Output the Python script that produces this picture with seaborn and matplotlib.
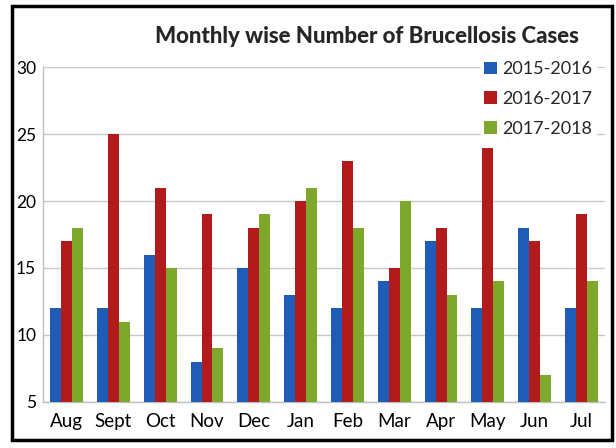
import matplotlib
matplotlib.use("Agg")
import matplotlib.pyplot as plt
import seaborn as sns
import pandas as pd
from matplotlib.patches import Rectangle

months = ["Aug", "Sept", "Oct", "Nov", "Dec", "Jan", "Feb", "Mar", "Apr", "May", "Jun", "Jul"]
seasons = ["2015-2016", "2016-2017", "2017-2018"]
cases_2015 = [12, 12, 16, 8, 15, 13, 12, 14, 17, 12, 18, 12]
cases_2016 = [17, 25, 21, 19, 18, 20, 23, 15, 18, 24, 17, 19]
cases_2017 = [18, 11, 15, 9, 19, 21, 18, 20, 13, 14, 7, 14]
colors = ["#1F5CB8", "#B21B1B", "#7EA82B"]

rows = []
for season, vals in zip(seasons, [cases_2015, cases_2016, cases_2017]):
    for m, v in zip(months, vals):
        rows.append({"month": m, "season": season, "cases": v})
df = pd.DataFrame(rows)

sns.set_style("white")
plt.rcParams["font.family"] = ["Lato", "DejaVu Sans"]

fig = plt.figure(figsize=(6.16, 4.48), dpi=100)
ax = fig.add_axes([0.070, 0.103, 0.912, 0.747])

sns.barplot(data=df, x="month", y="cases", hue="season", order=months,
            hue_order=seasons, palette=colors, width=0.7, saturation=1,
            linewidth=0, ax=ax, zorder=3)

ax.set_ylim(5, 30)
ax.set_yticks([5, 10, 15, 20, 25, 30])
ax.yaxis.grid(True, color="#c8c8c8", linewidth=1, zorder=0)
ax.set_axisbelow(True)
ax.set_xlabel("")
ax.set_ylabel("")
ax.tick_params(axis="both", length=0, colors="black")
ax.tick_params(axis="x", pad=8, labelsize=13.5)
ax.tick_params(axis="y", pad=5, labelsize=12.5)
for side in ["top", "right"]:
    ax.spines[side].set_visible(False)
for side in ["left", "bottom"]:
    ax.spines[side].set_color("#c0c0c0")
    ax.spines[side].set_linewidth(1)

leg = ax.legend(loc="upper right", bbox_to_anchor=(1.0, 1.055), frameon=True,
                fontsize=13, handlelength=0.7, handleheight=0.7,
                handletextpad=0.3, labelspacing=0.75, borderpad=0.2)
leg.get_frame().set_facecolor("white")
leg.get_frame().set_edgecolor("white")
leg.get_frame().set_alpha(1)
leg.set_zorder(5)

fig.text(0.596, 0.918, "Monthly wise Number of Brucellosis Cases",
         ha="center", va="center", fontsize=16, fontweight="black")

fig.patches.append(Rectangle((12 / 616, 8 / 448), 600 / 616, 434 / 448,
                             transform=fig.transFigure, fill=False,
                             edgecolor="black", linewidth=2.5))

fig.savefig("out.png", dpi=100)
